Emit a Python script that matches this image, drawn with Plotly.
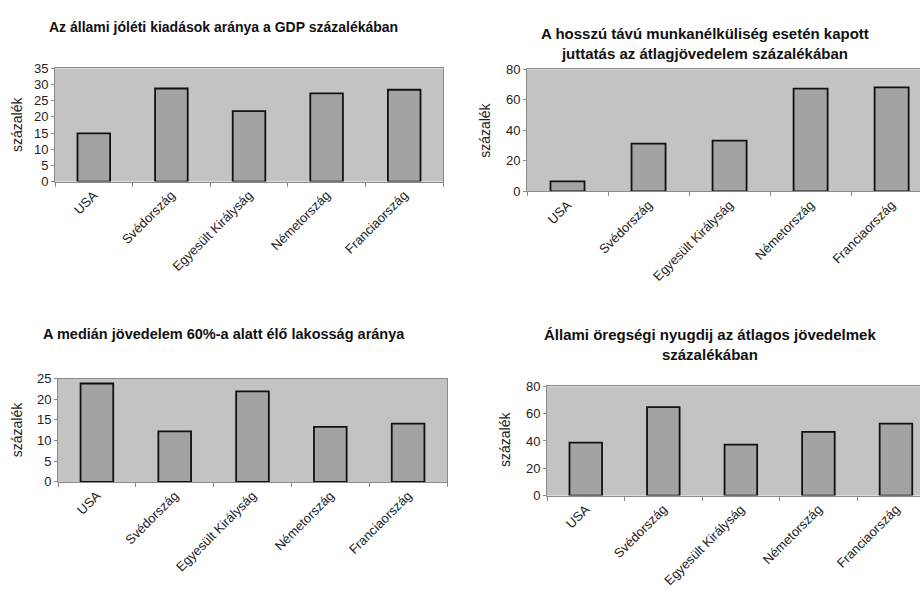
import plotly.graph_objects as go

categories = ["USA", "Svédország", "Egyesült Királyság", "Németország", "Franciaország"]

welfare_spending = [14.9, 28.8, 21.8, 27.3, 28.4]
unemployment_benefit = [6.5, 31.3, 33.2, 67.4, 68.2]
below_60_median = [23.8, 12.2, 21.9, 13.3, 14.1]
state_pension = [38.7, 64.8, 37.3, 46.6, 52.7]

titles = [
    "Az állami jóléti kiadások aránya a GDP százalékában",
    "A hosszú távú munkanélküliség esetén kapott<br>juttatás az átlagjövedelem százalékában",
    "A medián jövedelem 60%-a alatt élő lakosság aránya",
    "Állami öregségi nyugdij az átlagos jövedelmek<br>százalékában",
]
y_title = "százalék"

W, H = 920, 604
FONT = "Liberation Sans, Arial, sans-serif"
PLOT_BG = "#c3c3c3"
BAR_FILL = "#a3a3a3"
AXIS_COL = "#8a8a8a"

fig = go.Figure()

panels = [
    # values, plot-area px box (x0, x1, y0, y1), y max, y step, visible x max, right border
    (welfare_spending, (55, 443, 63, 179), 35, 5, 4.5, True),
    (unemployment_benefit, (527, 920, 64, 189), 80, 20, 4.35, False),
    (below_60_median, (58, 447, 381, 487), 25, 5, 4.5, True),
    (state_pension, (547, 920, 389, 501), 80, 20, 4.31, False),
]

for i, (vals, (x0, x1, y0, y1), ymax, dt, xmax, mir) in enumerate(panels):
    n = "" if i == 0 else str(i + 1)
    fig.add_trace(go.Bar(
        x=categories, y=vals, width=0.42,
        marker=dict(color=BAR_FILL, line=dict(color="#111111", width=1.8)),
        xaxis="x" + n, yaxis="y" + n, showlegend=False, hoverinfo="x+y",
    ))
    fig.layout["xaxis" + n] = dict(
        domain=[x0 / W, x1 / W], anchor="y" + n,
        range=[-0.5, xmax], type="category",
        tickangle=-45, tickfont=dict(family=FONT, size=13, color="#222"),
        ticks="outside", tickson="boundaries", ticklen=4, tickcolor=AXIS_COL,
        showline=True, linecolor=AXIS_COL, linewidth=1, mirror=True,
        showgrid=False, fixedrange=True,
    )
    fig.layout["yaxis" + n] = dict(
        domain=[1 - y1 / H, 1 - y0 / H], anchor="x" + n,
        range=[0, ymax], dtick=dt,
        tickfont=dict(family=FONT, size=13, color="#222"),
        ticks="outside", ticklen=3, tickcolor=AXIS_COL,
        showline=True, linecolor=AXIS_COL, linewidth=1, mirror=mir,
        showgrid=False, zeroline=False, fixedrange=True,
    )

title_pos = [(223, 20), (705, 37), (224, 335), (710, 346)]
title_sizes = [14, 15, 14.5, 15]
for t, (cx, cy), fs in zip(titles, title_pos, title_sizes):
    fig.add_annotation(
        text="<b>" + t + "</b>", x=cx / W, y=1 - cy / H, xref="paper", yref="paper",
        showarrow=False, xanchor="center", yanchor="middle",
        font=dict(family=FONT, size=fs, color="#111"), align="center",
    )

ytitle_pos = [(17, 121), (485, 127), (17, 434), (505, 444)]
for (cx, cy) in ytitle_pos:
    fig.add_annotation(
        text=y_title, x=cx / W, y=1 - cy / H, xref="paper", yref="paper",
        showarrow=False, xanchor="center", yanchor="middle", textangle=-90,
        font=dict(family=FONT, size=14, color="#222"),
    )

fig.update_layout(
    width=W, height=H,
    margin=dict(l=0, r=0, t=0, b=0),
    paper_bgcolor="white", plot_bgcolor=PLOT_BG,
    bargap=0.58,
)

fig.write_html("out.html", config={"displayModeBar": False},
               post_script="document.body.style.margin='0';")
